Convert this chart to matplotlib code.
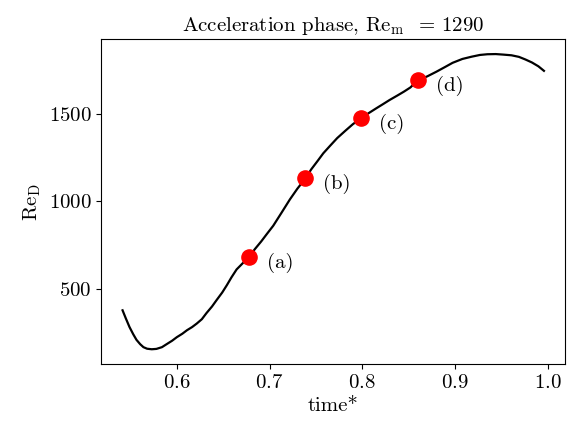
import matplotlib
matplotlib.use("Agg")
import matplotlib.pyplot as plt

plt.rcParams['font.family'] = 'serif'
plt.rcParams['font.serif'] = ['cmr10']
plt.rcParams['mathtext.fontset'] = 'cm'
plt.rcParams['axes.formatter.use_mathtext'] = True

# curve
time = [0.5415, 0.545, 0.549, 0.553, 0.5565, 0.5605, 0.564, 0.568, 0.573,
        0.578, 0.584, 0.589, 0.595, 0.600, 0.606, 0.611, 0.6165, 0.6215,
        0.627, 0.632, 0.638, 0.643, 0.649, 0.654, 0.659, 0.6645, 0.671,
        0.678, 0.684, 0.691, 0.697, 0.704, 0.713, 0.722, 0.730, 0.7387,
        0.745, 0.752, 0.758, 0.765, 0.773, 0.782, 0.790, 0.799, 0.807,
        0.815, 0.822, 0.8295, 0.838, 0.845, 0.852, 0.86, 0.870, 0.880,
        0.889, 0.8975, 0.908, 0.918, 0.927, 0.935, 0.944, 0.952, 0.961,
        0.969, 0.976, 0.983, 0.990, 0.996]
re_d = [376, 330, 280, 239, 207, 182, 165, 156, 153, 155, 165, 182, 202,
        222, 242, 262, 280, 300, 325, 360, 398, 435, 478, 520, 565, 610,
        645, 680, 725, 770, 812, 860, 935, 1011, 1072, 1131, 1183, 1232,
        1275, 1316, 1362, 1405, 1442, 1476, 1505, 1532, 1555, 1580, 1606,
        1628, 1652, 1694, 1715, 1742, 1768, 1793, 1815, 1828, 1838, 1842,
        1843, 1840, 1836, 1827, 1812, 1795, 1773, 1747]

# marked snapshots
snap_t = [0.678, 0.7387, 0.799, 0.86]
snap_re = [680, 1131, 1476, 1694]
snap_labels = ['(a)', '(b)', '(c)', '(d)']

fs = 15

fig = plt.figure(figsize=(5.67, 4.25), dpi=100)
ax = fig.add_axes([0.179, 0.1435, 0.8175, 0.764])

ax.plot(time, re_d, color='black', lw=1.6)
ax.scatter(snap_t, snap_re, s=120, color='red', zorder=3)
for t, r, lab in zip(snap_t, snap_re, snap_labels):
    ax.annotate(lab, (t, r), xytext=(13, -4), textcoords='offset points',
                ha='left', va='center', fontsize=fs)

ax.set_xticks([0.6, 0.7, 0.8, 0.9, 1.0])
ax.set_yticks([500, 1000, 1500])
ax.tick_params(labelsize=fs)
ax.set_xlabel('time*', fontsize=fs)
ax.set_ylabel(r'$\mathrm{Re_D}$', fontsize=fs)
ax.set_title(r'Acceleration phase, $\mathrm{Re_m}$  = 1290', fontsize=fs)

plt.savefig('out.png', dpi=100)
